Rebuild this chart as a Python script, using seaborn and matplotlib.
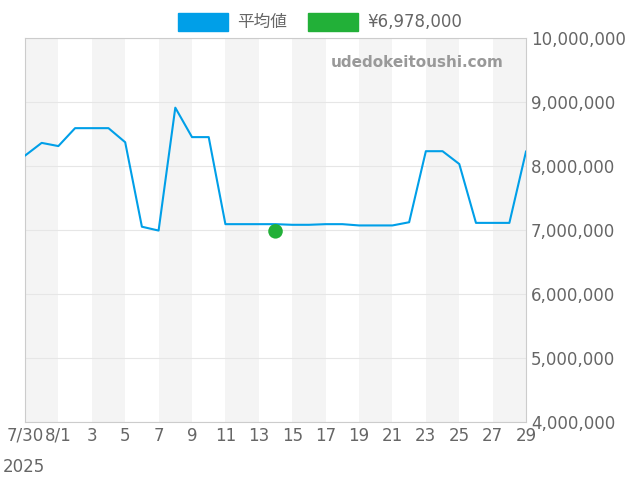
import matplotlib
matplotlib.use("Agg")
import matplotlib.pyplot as plt
import seaborn as sns
import pandas as pd
from matplotlib.patches import Patch

dates = ["7/30", "7/31"] + [f"8/{d}" for d in range(1, 30)]
avg = [8.16, 8.36, 8.31, 8.59, 8.59, 8.59, 8.37, 7.05, 6.99, 8.91, 8.45, 8.45,
       7.09, 7.09, 7.09, 7.09, 7.08, 7.08, 7.09, 7.09, 7.07, 7.07, 7.07, 7.12,
       8.23, 8.23, 8.03, 7.11, 7.11, 7.11, 8.23]
avg = [v * 1e6 for v in avg]
point_date = "8/14"
point_value = 6978000
tick_labels = ["7/30", "8/1", "3", "5", "7", "9", "11", "13", "15", "17", "19", "21", "23", "25", "27", "29"]

df = pd.DataFrame({"x": range(len(dates)), "v": avg})

sns.set_style("white")
plt.rcParams['font.family'] = ['DejaVu Sans', 'Noto Sans CJK JP']
fig, ax = plt.subplots(figsize=(6.4, 4.8), dpi=100)
fig.subplots_adjust(left=0.039, right=0.822, top=0.921, bottom=0.121)

for s in range(0, len(dates) - 1, 4):
    ax.axvspan(s, s + 2, color="#f4f4f4", zorder=0, lw=0)
sns.lineplot(data=df, x="x", y="v", color="#009fe8", lw=1.5, ax=ax, zorder=3)
sns.scatterplot(x=[dates.index(point_date)], y=[point_value], color="#22b038", s=110, ax=ax, zorder=4, edgecolor="none")

ax.set_xlim(0, len(dates) - 1)
ax.set_ylim(4e6, 10e6)
ax.set_xticks(range(0, len(dates), 2))
ax.set_xticklabels(tick_labels)
ax.set_yticks([4e6 + i * 1e6 for i in range(7)])
ax.yaxis.tick_right()
ax.yaxis.set_major_formatter(matplotlib.ticker.FuncFormatter(lambda v, p: f"{int(v):,}"))
ax.tick_params(labelsize=12, colors="#666666", length=0)
ax.grid(axis="y", color="#e6e6e6", lw=0.8)
for sp in ax.spines.values():
    sp.set_color("#cccccc")
ax.set_xlabel(""); ax.set_ylabel("")
fig.text(0.005, 0.028, "2025", fontsize=12, color="#666666", ha="left", va="center")
ax.text(0.955, 0.935, "udedokeitoushi.com", transform=ax.transAxes, fontsize=11, color="#999999",
        fontweight="bold", ha="right", va="center")

handles = [Patch(color="#009fe8", label="平均値"), Patch(color="#22b038", label="¥6,978,000")]
leg = fig.legend(handles=handles, loc="upper center", bbox_to_anchor=(0.5, 1.005), ncol=2, frameon=False,
                 handlelength=3, handleheight=1.3, columnspacing=1.2, handletextpad=0.6,
                 prop={"family": ["DejaVu Sans", "Noto Sans CJK JP"], "size": 12})
for t in leg.get_texts():
    t.set_color("#666666")
fig.savefig("out.png", dpi=100)
